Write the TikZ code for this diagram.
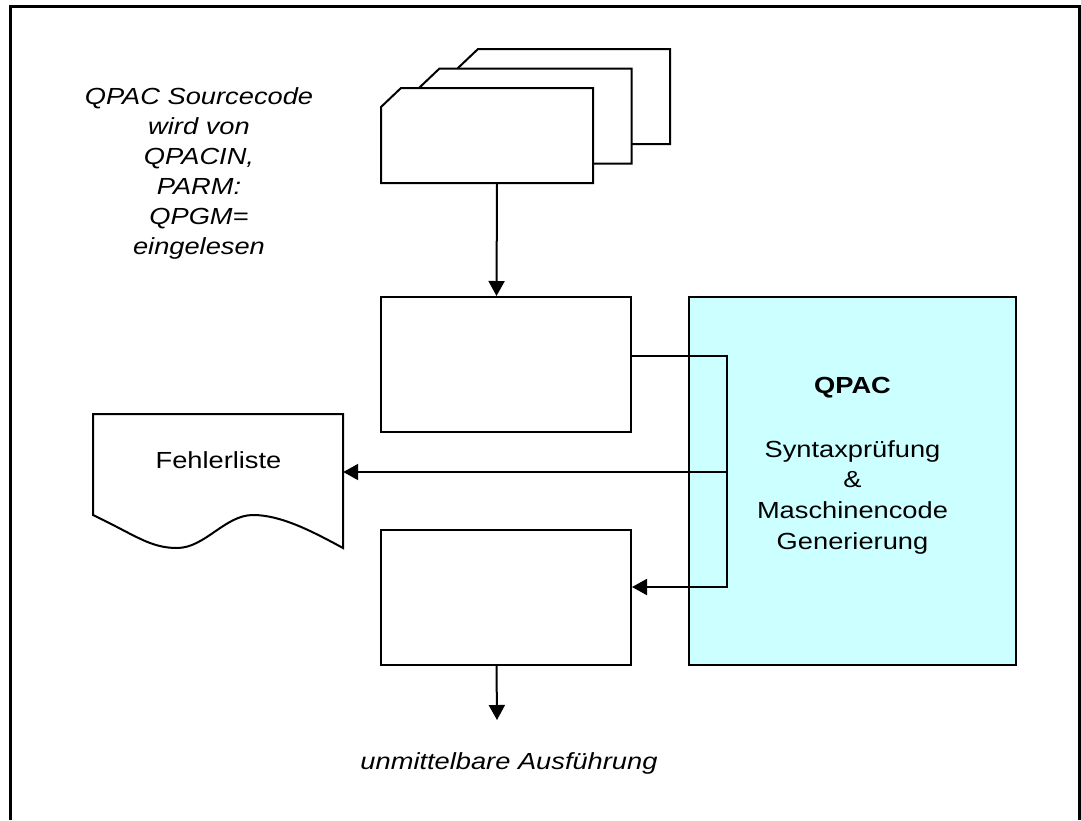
\documentclass[tikz,border=0pt]{standalone}
\usepackage{fontspec}
\setmainfont{Liberation Sans}[FakeStretch=1.17]
\usetikzlibrary{arrows.meta}
\definecolor{qcyan}{HTML}{CCFFFF}
\begin{document}
\begin{tikzpicture}[x=1pt,y=-1pt,
  box/.style={draw, line width=2pt, minimum width=250pt, minimum height=135pt, inner sep=0pt},
  ghost/.style={inner sep=0pt},
  card/.style={draw, fill=white, line width=2pt, line join=miter},
  arr/.style={line width=2pt, -{Triangle[length=15pt,width=16pt]}},
  conn/.style={line width=2pt},
  lbl/.style={font=\fontsize{23.3}{30}\selectfont, align=center, inner sep=0pt}]
\useasboundingbox (0,0) rectangle (1081,820);
% outer frame
\draw[line width=3pt] (10.3,820) -- (10.3,6.5) -- (1079.5,6.5) -- (1079.5,820);

% card stack
\foreach \dx/\dy in {77/-39, 38.5/-19.5, 0/0}{
  \draw[card, shift={(\dx,\dy)}] (381,107) -- (401,88) -- (593,88) -- (593,183) -- (381,183) -- cycle;
}
\node[ghost, minimum width=212pt, minimum height=95pt] (card) at (487,135.5) {};

% source text
\node[lbl, font=\fontsize{23.3}{30}\selectfont\itshape, anchor=north] (src) at (199,87)
  {QPAC Sourcecode\\wird von\\QPACIN,\\PARM:\\QPGM=\\eingelesen};

% boxes
\node[box] (box1) at (506,364.5) {};
\node[box] (box2) at (506,597.5) {};
\node[draw, line width=2pt, fill=qcyan, minimum width=327pt, minimum height=368pt, inner sep=0pt] (qpac) at (852.5,481) {};
\node[lbl, font=\fontsize{23.3}{30.7}\selectfont, anchor=north] (qtext) at (852.5,377)
  {\textbf{QPAC}\\[33pt]Syntaxprüfung\\\&\\Maschinencode\\Generierung};

% document shape
\draw[card] (93,414) -- (343,414) -- (343,548)
  .. controls (310,530) and (280,515) .. (253,515)
  .. controls (225,515) and (205,548) .. (177,548)
  .. controls (150,548) and (135,535) .. (93,515) -- cycle;
\node[ghost, minimum width=250pt, minimum height=134pt] (doc) at (218,481) {};
\node[lbl, anchor=base] (doctext) at (218.5,468) {Fehlerliste};

% connectors
\coordinate (bus) at (727,472);
\coordinate (exec) at (497,720);
\draw[arr] ([xshift=10pt]card.south) -- ([xshift=-9.5pt]box1.north);
\draw[arr] ([yshift=8.5pt]box1.east) -| (bus) |- ([yshift=10.5pt]box2.east);
\draw[arr] (bus) -- (doc.east |- bus);
\draw[arr] ([xshift=-9.5pt]box2.south) -- (exec);

\node[lbl, font=\fontsize{23.3}{30}\selectfont\itshape, anchor=base] (run) at (509,769) {unmittelbare Ausführung};
\end{tikzpicture}
\end{document}
